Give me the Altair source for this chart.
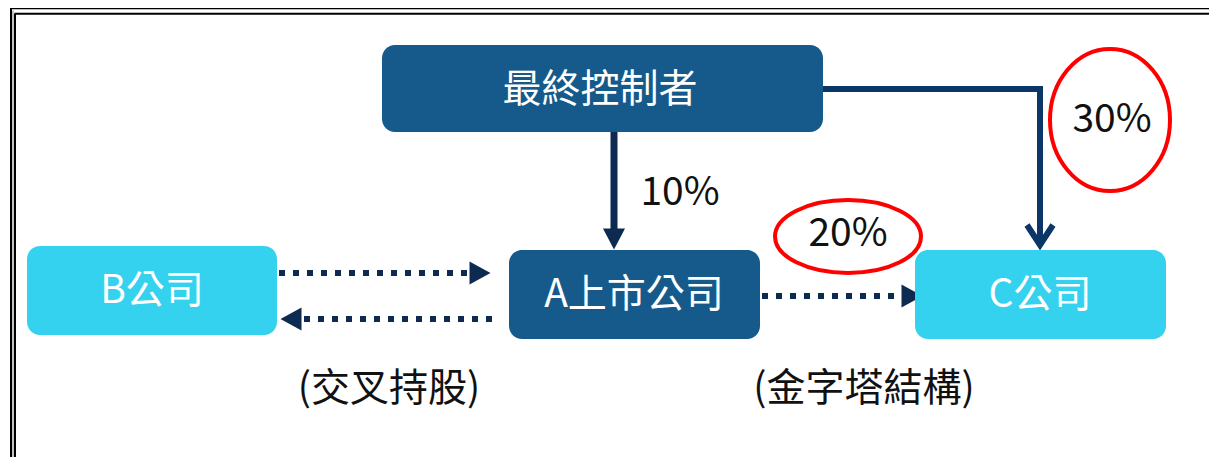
import altair as alt
import pandas as pd

# ---- content ----
box_labels = ["最終控制者", "B公司", "A上市公司", "C公司"]
box_kind = ["dark", "light", "dark", "light"]
pct_labels = ["10%", "20%", "30%"]
note_labels = ["(交叉持股)", "(金字塔結構)"]

# ---- layout (image pixel coordinates) ----
box_x1 = [382, 27, 509, 915]
box_x2 = [823, 277, 760, 1166]
box_y1 = [45, 246, 250, 250]
box_y2 = [132, 335, 339, 339]
box_tx = [600, 152, 634, 1040]
box_ty = [90, 291, 295, 295]

pct_x = [680, 848, 1112]
pct_y = [193, 234, 120]

note_x = [389, 864]
note_y = [389, 389]

# solid connectors: segment id, x, y
solid_seg = ["v", "v", "e", "e", "e", "c", "c", "c"]
solid_x = [614, 614, 823, 1040, 1040, 1027, 1040, 1053]
solid_y = [132, 230, 89, 89, 240, 225, 245, 225]
solid_w = {"v": 7, "e": 6, "c": 6}
solid_col = {"v": "#0d2b50", "e": "#0b3668", "c": "#0b3668"}

# dotted connectors
dot_seg = ["ba", "ba", "ab", "ab", "ac", "ac"]
dot_x = [279, 468, 492, 302, 762, 901]
dot_y = [273, 273, 319, 319, 296, 296]

# arrow heads
head_x = [614, 480, 291, 912]
head_y = [239, 273, 319, 296]
head_dir = ["down", "right", "left", "right"]

# red ellipses around 20% and 30%
ell_x = [848, 1110]
ell_y = [236.5, 120]
ell_rx = [73, 60]
ell_ry = [36.5, 71]

# frame
frame_x1 = [10, 11, 14.5, 15, 13]
frame_x2 = [1217, 11, 1217, 15, 13]
frame_y1 = [8.3, 8, 13.7, 13.7, 10.5]
frame_y2 = [8.3, 465, 13.7, 465, 465]
frame_w = [2, 2, 2, 2, 1.2]
frame_c = ["#000000", "#000000", "#000000", "#000000", "#9a9a9a"]

FONT = "Noto Sans CJK TC"
DARK = "#155a8a"
LIGHT = "#35d2f0"
NAVY = "#0d2b50"

W, H = 1201, 449
xs = alt.Scale(domain=[8, 8 + W], nice=False, zero=False)
ys = alt.Scale(domain=[8 + H, 8], nice=False, zero=False)


def X(f):
    return alt.X(f, type="quantitative", scale=xs, axis=None)


def Y(f):
    return alt.Y(f, type="quantitative", scale=ys, axis=None)


# frame
frame_df = pd.DataFrame({"x": frame_x1, "x2": frame_x2, "y": frame_y1, "y2": frame_y2,
                         "w": frame_w, "c": frame_c})
frame = alt.Chart(frame_df).mark_rule(strokeCap="butt").encode(
    x=X("x"), x2="x2", y=Y("y"), y2="y2",
    strokeWidth=alt.StrokeWidth("w:Q", scale=None),
    color=alt.Color("c:N", scale=None),
)

# boxes
box_df = pd.DataFrame({
    "label": box_labels, "x": box_x1, "x2": box_x2, "y": box_y1, "y2": box_y2,
    "tx": box_tx, "ty": box_ty,
    "fill": [DARK if k == "dark" else LIGHT for k in box_kind],
})
boxes = alt.Chart(box_df).mark_rect(cornerRadius=13).encode(
    x=X("x"), x2="x2", y=Y("y"), y2="y2",
    color=alt.Color("fill:N", scale=None),
)
box_text = alt.Chart(box_df).mark_text(
    font=FONT, fontSize=39, color="white", baseline="middle", align="center"
).encode(x=X("tx"), y=Y("ty"), text="label:N")

# solid connectors
sol_df = pd.DataFrame({"seg": solid_seg, "x": solid_x, "y": solid_y})
sol_df["ord"] = range(len(sol_df))
sol_layers = []
for s in ["v", "e", "c"]:
    sol_layers.append(
        alt.Chart(sol_df[sol_df.seg == s]).mark_line(
            strokeWidth=solid_w[s], color=solid_col[s], strokeJoin="miter", strokeCap="butt"
        ).encode(x=X("x"), y=Y("y"), order="ord:Q")
    )

# dotted connectors
dot_df = pd.DataFrame({"seg": dot_seg, "x": dot_x, "y": dot_y})
dot_df["ord"] = range(len(dot_df))
dots = alt.Chart(dot_df).mark_line(
    strokeWidth=6, color=NAVY, strokeDash=[6, 8], strokeCap="butt"
).encode(x=X("x"), y=Y("y"), detail="seg:N", order="ord:Q")

# arrow heads
paths = {
    "right": "M -1 -1.1 L 1 0 L -1 1.1 Z",
    "left": "M 1 -1.1 L -1 0 L 1 1.1 Z",
    "down": "M -1.05 -1 L 0 1 L 1.05 -1 Z",
}
head_layers = []
for d in ["right", "left", "down"]:
    hd = pd.DataFrame({"x": head_x, "y": head_y, "d": head_dir})
    hd = hd[hd.d == d]
    head_layers.append(
        alt.Chart(hd).mark_point(shape=paths[d], filled=True, size=441, opacity=1,
                                 color=NAVY, strokeWidth=0).encode(x=X("x"), y=Y("y"))
    )

# ellipses
k = 0.5523
ell_layers = []
for cx, cy, rx, ry in zip(ell_x, ell_y, ell_rx, ell_ry):
    b = ry / rx
    p = (f"M 1 0 C 1 {k*b:.4f} {k:.4f} {b:.4f} 0 {b:.4f} "
         f"C {-k:.4f} {b:.4f} -1 {k*b:.4f} -1 0 "
         f"C -1 {-k*b:.4f} {-k:.4f} {-b:.4f} 0 {-b:.4f} "
         f"C {k:.4f} {-b:.4f} 1 {-k*b:.4f} 1 0 Z")
    ell_layers.append(
        alt.Chart(pd.DataFrame({"x": [cx], "y": [cy]})).mark_point(
            shape=p, filled=False, size=(2 * rx) ** 2, color="#ff0000",
            strokeWidth=4, opacity=1
        ).encode(x=X("x"), y=Y("y"))
    )

# percent labels
pct_df = pd.DataFrame({"t": pct_labels, "x": pct_x, "y": pct_y})
pct = alt.Chart(pct_df).mark_text(
    font=FONT, fontSize=39, color="#111111", baseline="middle", align="center"
).encode(x=X("x"), y=Y("y"), text="t:N")

note_df = pd.DataFrame({"t": note_labels, "x": note_x, "y": note_y})
notes = alt.Chart(note_df).mark_text(
    font=FONT, fontSize=39, color="#111111", baseline="middle", align="center"
).encode(x=X("x"), y=Y("y"), text="t:N")

chart = alt.layer(
    frame, *sol_layers, dots, *head_layers, boxes, box_text, *ell_layers, pct, notes
).properties(
    width=W, height=H, padding=0,
    autosize=alt.AutoSizeParams(type="none"),
    background="white",
).configure_view(stroke=None)

chart.save("out.html", embed_options={"renderer": "svg", "actions": False})
